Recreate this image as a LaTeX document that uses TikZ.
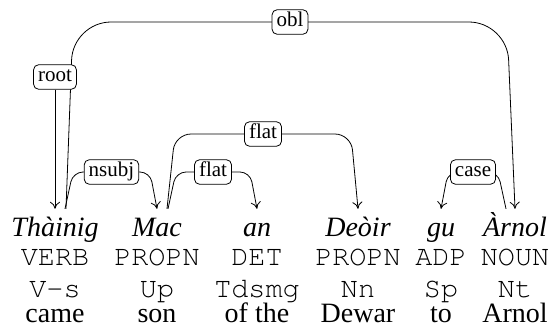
\documentclass[tikz,border=0pt]{standalone}
\usepackage[T1]{fontenc}
\usepackage{fontspec}
\setmainfont{Liberation Serif}
\newcommand\crfont{\fontencoding{T1}\fontfamily{pcr}\fontseries{m}\fontshape{n}\selectfont}
\usetikzlibrary{arrows.meta}
\begin{document}
\begin{tikzpicture}[x=1pt,y=-1pt,
  word/.style={font=\fontsize{28}{30}\selectfont\itshape, inner sep=0pt, text height=27pt, text depth=8pt, anchor=base},
  tagtxt/.style={font=\crfont\fontsize{28.5}{30}\selectfont, inner sep=0pt, anchor=base},
  gloss/.style={font=\fontsize{28}{30}\selectfont, inner sep=0pt, text height=20pt, text depth=1pt, anchor=base},
  lbl/.style={draw, fill=white, rounded corners=5pt, font=\fontsize{21}{22}\selectfont, inner xsep=4.5pt, inner ysep=3pt, text height=14pt, text depth=4.5pt, line width=0.8pt},
  dep/.style={draw, line width=0.8pt, -{To[length=7pt,width=10pt]}}]
\useasboundingbox (0,0) rectangle (551,327);
% words
\node[word] (w1) at (55,236) {Thàinig};
\node[word] (w2) at (157,236) {Mac};
\node[word] (w3) at (257,236) {an};
\node[word] (w4) at (358,236) {Deòir};
\node[word] (w5) at (441,236) {gu};
\node[word] (w6) at (515,236) {Àrnol};
% tags
\node[tagtxt] (p1) at (55,265) {VERB};
\node[tagtxt] (p2) at (157,265) {PROPN};
\node[tagtxt] (p3) at (257,265) {DET};
\node[tagtxt] (p4) at (358,265) {PROPN};
\node[tagtxt] (p5) at (441,265) {ADP};
\node[tagtxt] (p6) at (515,265) {NOUN};
% morph
\node[tagtxt] (m1) at (55,297) {V-s};
\node[tagtxt] (m2) at (157,297) {Up};
\node[tagtxt] (m3) at (257,297) {Tdsmg};
\node[tagtxt] (m4) at (358,297) {Nn};
\node[tagtxt] (m5) at (441,297) {Sp};
\node[tagtxt] (m6) at (515,297) {Nt};
% gloss
\node[gloss] (g1) at (55,322) {came};
\node[gloss] (g2) at (157,322) {son};
\node[gloss] (g3) at (257,322) {of the};
\node[gloss] (g4) at (358,322) {Dewar};
\node[gloss] (g5) at (441,322) {to};
\node[gloss] (g6) at (515,322) {Arnol};
% edges
\draw[dep, rounded corners=38pt] ([xshift=11pt]w1.north) -- (73,22) -- node[lbl] (l-obl) {obl} (507,22) -- (w6.north);
\node[lbl] (l-root) at (55,77) {root};
\draw[dep] (l-root) -- (w1.north);
\draw[dep, rounded corners=10pt] ([xshift=10pt]w1.north) -- (73,172) -- node[lbl] (l-nsubj) {nsubj} (150,172) -- (w2.north);
\draw[dep, rounded corners=16pt] ([xshift=10pt]w2.north) -- (175,134) -- node[lbl] (l-flat2) {flat} (351,134) -- (w4.north);
\draw[dep, rounded corners=10pt] ([xshift=11pt]w2.north) -- (176,172) -- node[lbl] (l-flat1) {flat} (250,172) -- (w3.north);
\draw[dep, rounded corners=10pt] ([xshift=-9pt]w6.north) -- (498,172) -- node[lbl] (l-case) {case} (448,172) -- (w5.north);
\end{tikzpicture}
\end{document}
